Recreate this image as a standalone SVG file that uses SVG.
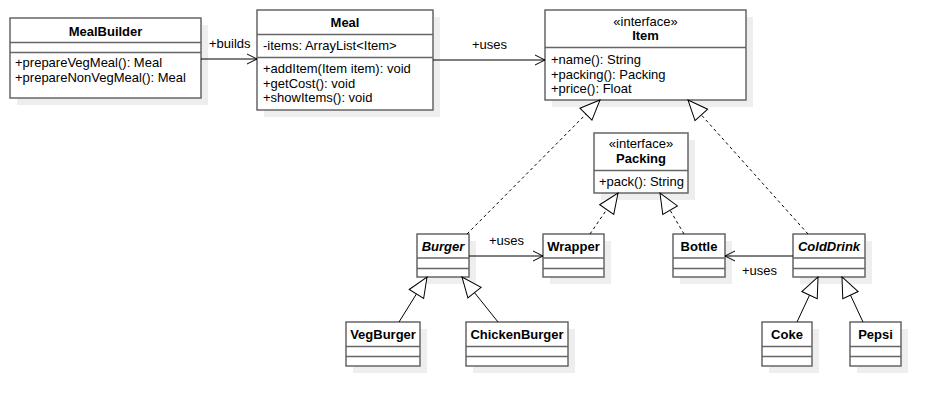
<svg xmlns="http://www.w3.org/2000/svg" width="940" height="406" viewBox="0 0 940 406">
<style>
.sh{fill:#eeeeee}
.bx{fill:#fff;stroke:#666;stroke-width:1.5}
.dv{stroke:#666;stroke-width:1.5}
text{font-family:"Liberation Sans",Arial,sans-serif;font-size:13px;fill:#000}
.t{font-weight:bold;text-anchor:middle}
.ti{font-weight:bold;font-style:italic;text-anchor:middle}
.st{text-anchor:middle}
.e{fill:none;stroke:#000;stroke-width:1}
.d{stroke-dasharray:3 3}
.oa{marker-end:url(#open)}
.ta{marker-end:url(#tri)}
</style>
<defs>
<marker id="open" viewBox="0 0 12 12" refX="11" refY="6" markerWidth="12" markerHeight="12" markerUnits="userSpaceOnUse" orient="auto"><path d="M1,1 L11,6 L1,11" fill="none" stroke="#000" stroke-width="1"/></marker>
<marker id="tri" viewBox="0 0 22 20" refX="21" refY="10" markerWidth="22" markerHeight="20" markerUnits="userSpaceOnUse" orient="auto"><path d="M1,1.5 L21,10 L1,18.5 Z" fill="#fff" stroke="#000" stroke-width="1" stroke-dasharray="none"/></marker>
</defs>
<g id="MealBuilder">
<rect class="sh" x="17" y="25" width="191" height="80"/>
<rect class="bx" x="10" y="18" width="191" height="80"/>
<line class="dv" x1="10" y1="42.5" x2="201" y2="42.5"/>
<line class="dv" x1="10" y1="52.5" x2="201" y2="52.5"/>
<text class="t" x="105.5" y="36">MealBuilder</text>
<text x="15" y="67">+prepareVegMeal(): Meal</text>
<text x="15" y="82">+prepareNonVegMeal(): Meal</text>
</g>
<g id="Meal">
<rect class="sh" x="264" y="17" width="176" height="100"/>
<rect class="bx" x="257" y="10" width="176" height="100"/>
<line class="dv" x1="257" y1="34.5" x2="433" y2="34.5"/>
<line class="dv" x1="257" y1="57.5" x2="433" y2="57.5"/>
<text class="t" x="345" y="27">Meal</text>
<text x="263" y="50">-items: ArrayList&lt;Item&gt;</text>
<text x="263" y="73">+addItem(Item item): void</text>
<text x="263" y="87.5">+getCost(): void</text>
<text x="263" y="102">+showItems(): void</text>
</g>
<g id="Item">
<rect class="sh" x="552" y="17" width="201" height="90"/>
<rect class="bx" x="545" y="10" width="201" height="90"/>
<line class="dv" x1="545" y1="47.5" x2="746" y2="47.5"/>
<text class="st" x="645.5" y="25.5">«interface»</text>
<text class="t" x="645.5" y="40">Item</text>
<text x="551" y="64">+name(): String</text>
<text x="551" y="78.5">+packing(): Packing</text>
<text x="551" y="93">+price(): Float</text>
</g>
<g id="Packing">
<rect class="sh" x="601" y="140" width="94" height="60"/>
<rect class="bx" x="594" y="133" width="94" height="60"/>
<line class="dv" x1="594" y1="170.5" x2="688" y2="170.5"/>
<text class="st" x="641" y="147.5">«interface»</text>
<text class="t" x="641" y="163">Packing</text>
<text x="599" y="186">+pack(): String</text>
</g>
<g id="Burger">
<rect class="sh" x="424" y="241" width="52" height="43"/>
<rect class="bx" x="417" y="234" width="52" height="43"/>
<line class="dv" x1="417" y1="258" x2="469" y2="258"/>
<line class="dv" x1="417" y1="268.5" x2="469" y2="268.5"/>
<text class="ti" x="443" y="251">Burger</text>
</g>
<g id="Wrapper">
<rect class="sh" x="550" y="241" width="61" height="43"/>
<rect class="bx" x="543" y="234" width="61" height="43"/>
<line class="dv" x1="543" y1="258" x2="604" y2="258"/>
<line class="dv" x1="543" y1="268.5" x2="604" y2="268.5"/>
<text class="t" x="573.5" y="251">Wrapper</text>
</g>
<g id="Bottle">
<rect class="sh" x="680" y="241" width="52" height="43"/>
<rect class="bx" x="673" y="234" width="52" height="43"/>
<line class="dv" x1="673" y1="258" x2="725" y2="258"/>
<line class="dv" x1="673" y1="268.5" x2="725" y2="268.5"/>
<text class="t" x="699" y="251">Bottle</text>
</g>
<g id="ColdDrink">
<rect class="sh" x="800" y="241" width="72" height="43"/>
<rect class="bx" x="793" y="234" width="72" height="43"/>
<line class="dv" x1="793" y1="258" x2="865" y2="258"/>
<line class="dv" x1="793" y1="268.5" x2="865" y2="268.5"/>
<text class="ti" x="829" y="251">ColdDrink</text>
</g>
<g id="VegBurger">
<rect class="sh" x="353" y="329" width="74" height="44"/>
<rect class="bx" x="346" y="322" width="74" height="44"/>
<line class="dv" x1="346" y1="346.5" x2="420" y2="346.5"/>
<line class="dv" x1="346" y1="356.5" x2="420" y2="356.5"/>
<text class="t" x="383" y="338.5">VegBurger</text>
</g>
<g id="ChickenBurger">
<rect class="sh" x="473" y="329" width="102" height="44"/>
<rect class="bx" x="466" y="322" width="102" height="44"/>
<line class="dv" x1="466" y1="346.5" x2="568" y2="346.5"/>
<line class="dv" x1="466" y1="356.5" x2="568" y2="356.5"/>
<text class="t" x="517" y="338.5">ChickenBurger</text>
</g>
<g id="Coke">
<rect class="sh" x="769" y="329" width="50" height="44"/>
<rect class="bx" x="762" y="322" width="50" height="44"/>
<line class="dv" x1="762" y1="346.5" x2="812" y2="346.5"/>
<line class="dv" x1="762" y1="356.5" x2="812" y2="356.5"/>
<text class="t" x="787" y="338.5">Coke</text>
</g>
<g id="Pepsi">
<rect class="sh" x="857" y="329" width="51" height="44"/>
<rect class="bx" x="850" y="322" width="51" height="44"/>
<line class="dv" x1="850" y1="346.5" x2="901" y2="346.5"/>
<line class="dv" x1="850" y1="356.5" x2="901" y2="356.5"/>
<text class="t" x="875.5" y="338.5">Pepsi</text>
</g>
<g id="connectors">
<path class="e oa" d="M201,59 H257"/>
<text x="209" y="47.5">+builds</text>
<path class="e oa" d="M433,60 H545"/>
<text x="472" y="49">+uses</text>
<path class="e d ta" d="M467,234 L600,100"/>
<path class="e d ta" d="M808,234 L688,100"/>
<path class="e d ta" d="M590,234 L618,193"/>
<path class="e d ta" d="M684,234 L660,193"/>
<path class="e oa" d="M469,256 H543"/>
<text x="489" y="245">+uses</text>
<path class="e oa" d="M793,256 H725"/>
<text x="742" y="275">+uses</text>
<path class="e ta" d="M399,322 L427,277"/>
<path class="e ta" d="M498,322 L462,277"/>
<path class="e ta" d="M797,322 L818,277"/>
<path class="e ta" d="M863,322 L842,277"/>
</g>
</svg>
